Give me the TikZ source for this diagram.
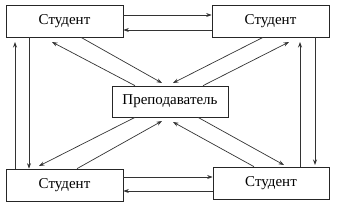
\documentclass[tikz,border=0pt]{standalone}
\usepackage{fontspec}
\setmainfont{Liberation Serif}
\usetikzlibrary{arrows.meta}
\begin{document}
\begin{tikzpicture}[x=1pt,y=-1pt,
  box/.style={draw=black!85,line width=0.7pt,inner sep=0pt,font=\fontsize{15}{17}\selectfont,fill=white},
  link/.style={draw=black!80,line width=0.7pt,-{Stealth[length=5.5pt,width=4pt]}}]
\useasboundingbox (0,0) rectangle (342,210);
\node[box,minimum width=117pt,minimum height=32pt] (tl) at (64.5,21) {Студент};
\node[box,minimum width=117pt,minimum height=32pt] (tr) at (270.5,21) {Студент};
\node[box,minimum width=117pt,minimum height=32pt] (bl) at (64.5,185) {Студент};
\node[box,minimum width=116pt,minimum height=32pt] (br) at (271,183) {Студент};
\node[box,minimum width=116pt,minimum height=31pt] (c) at (170,101.5) {Преподаватель};
% horizontal
\draw[link] (tl.east |- 0,15) -- (tr.west |- 0,15);
\draw[link] (tr.west |- 0,30) -- (tl.east |- 0,30);
\draw[link] (bl.east |- 0,177) -- (br.west |- 0,177);
\draw[link] (br.west |- 0,191) -- (bl.east |- 0,191);
% vertical
\draw[link] (bl.north -| 15,0) -- (15,42);
\draw[link] (tl.south -| 29,0) -- (bl.north -| 29,0);
\draw[link] (br.north -| 300,0) -- (300,42);
\draw[link] (tr.south -| 315,0) -- (315,165);
% diagonals
\draw[link] (tl.south -| 81,0) -- (162,83);
\draw[link] (c.north -| 135,0) -- (52,42);
\draw[link] (tr.south -| 263,0) -- (173,83);
\draw[link] (c.north -| 203,0) -- (289,42);
\draw[link] (c.south -| 135,0) -- (39,166);
\draw[link] (bl.north -| 77,0) -- (162,121);
\draw[link] (c.south -| 198,0) -- (284,165);
\draw[link] (br.north -| 254,0) -- (173,122);
\end{tikzpicture}
\end{document}
